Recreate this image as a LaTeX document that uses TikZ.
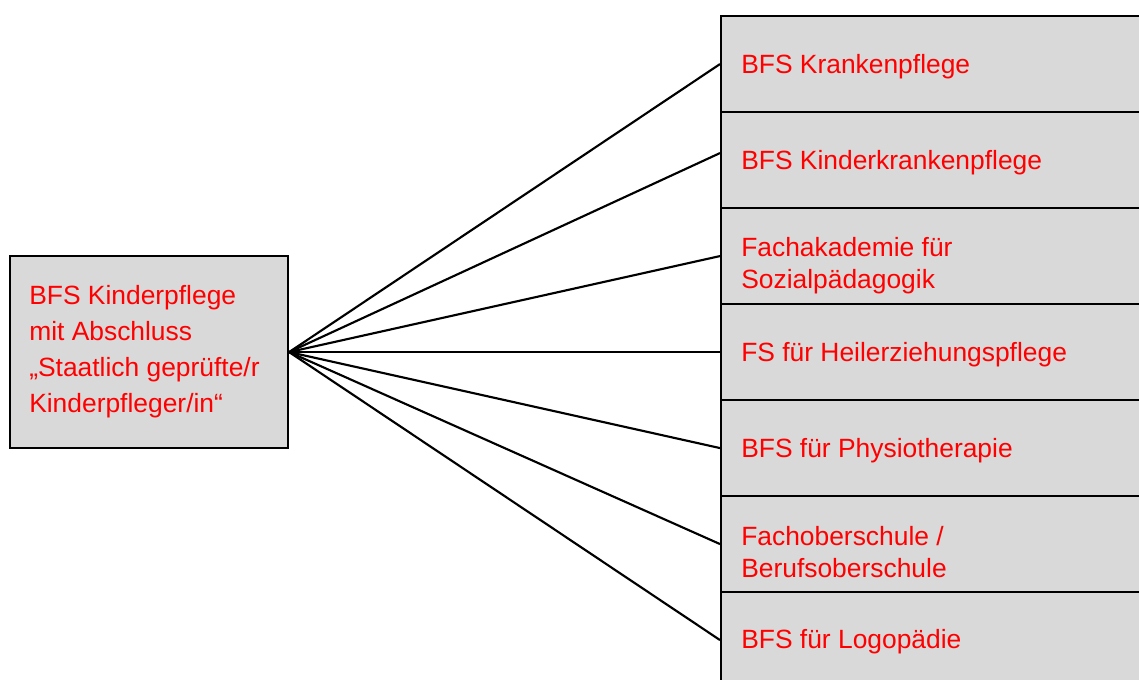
\documentclass[tikz,border=0pt]{standalone}
\usepackage{fontspec}
\setmainfont{Liberation Sans}
\definecolor{boxgray}{HTML}{D9D9D9}
\definecolor{txtred}{HTML}{FF0000}
\tikzset{
  box/.style={draw=black, fill=boxgray, line width=1.6pt, inner sep=0pt, anchor=north west},
  rbox/.style={box, minimum width=337.5pt, minimum height=72pt},
  rtext/.style={text=txtred, font=\fontsize{19.8}{23.8}\selectfont, anchor=base west, inner sep=0pt, align=left},
  ltext/.style={text=txtred, font=\fontsize{19.8}{27}\selectfont, anchor=base west, inner sep=0pt, align=left},
  conn/.style={draw=black, line width=1.6pt}
}
\begin{document}
\begin{tikzpicture}[x=0.75pt, y=-0.75pt]
\clip (0,0) rectangle (1139,679);
\fill[white] (0,0) rectangle (1139,679);
% left box
\node[box, minimum width=208.5pt, minimum height=144pt] (src) at (9,255) {};
\node[ltext] (srct) at (29,412) {BFS Kinderpflege\\mit Abschluss\\„Staatlich geprüfte/r\\Kinderpfleger/in“};
% right boxes
\node[rbox] (b1) at (720,15) {};
\node[rbox] (b2) at (720,111) {};
\node[rbox] (b3) at (720,207) {};
\node[rbox] (b4) at (720,303) {};
\node[rbox] (b5) at (720,399) {};
\node[rbox] (b6) at (720,495) {};
\node[rbox] (b7) at (720,591) {};
\node[rtext] (t1) at (741,73) {BFS Krankenpflege};
\node[rtext] (t2) at (741,169) {BFS Kinderkrankenpflege};
\node[rtext] (t3) at (741,288) {Fachakademie für\\Sozialpädagogik};
\node[rtext] (t4) at (741,361) {FS für Heilerziehungspflege};
\node[rtext] (t5) at (741,457) {BFS für Physiotherapie};
\node[rtext] (t6) at (741,577) {Fachoberschule /\\Berufsoberschule};
\node[rtext] (t7) at (741,648) {BFS für Logopädie};
% connectors
\draw[conn] (src.east) -- (b1.west);
\draw[conn] (src.east) -- ([yshift=5.25pt]b2.west);
\draw[conn] (src.east) -- (b3.west);
\draw[conn] (src.east) -- (b4.west);
\draw[conn] (src.east) -- (b5.west);
\draw[conn] (src.east) -- (b6.west);
\draw[conn] (src.east) -- (b7.west);
\end{tikzpicture}
\end{document}
